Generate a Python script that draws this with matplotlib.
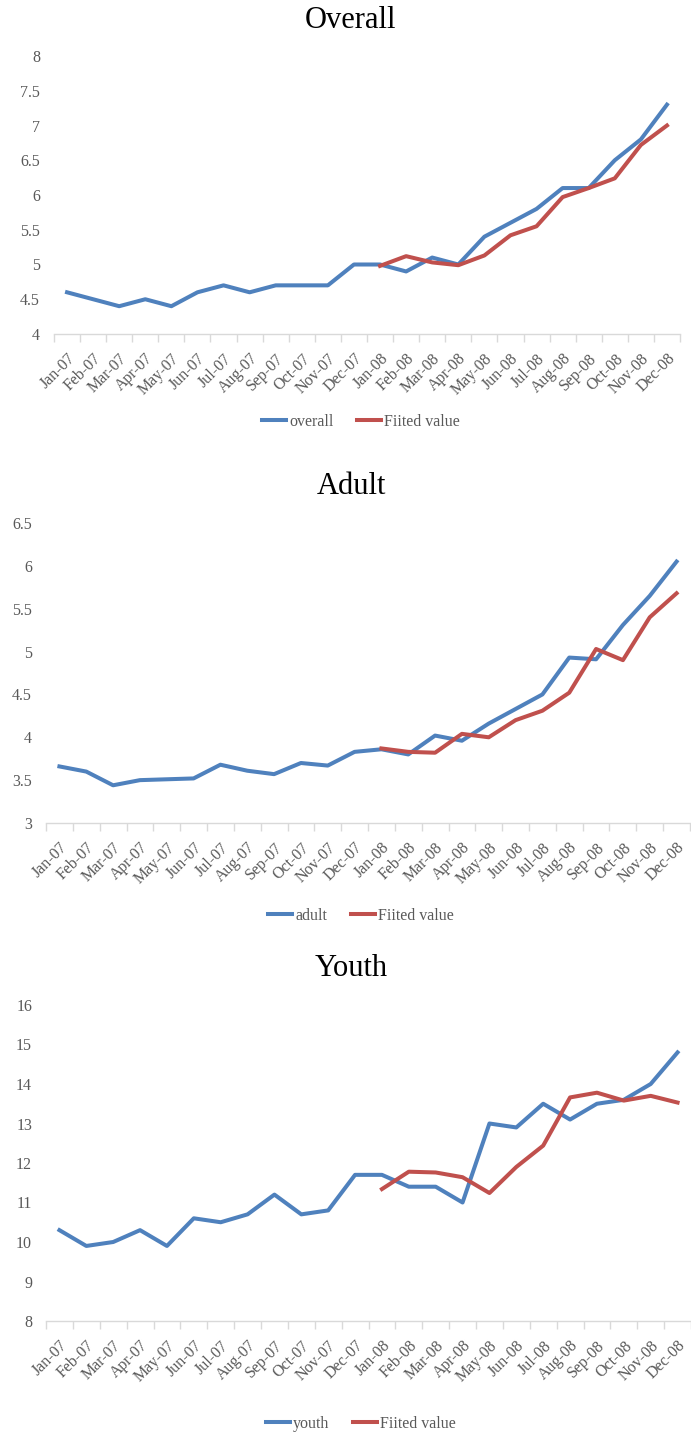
import matplotlib
matplotlib.use("Agg")
import matplotlib.pyplot as plt

plt.rcParams['font.family'] = ['Liberation Serif', 'DejaVu Serif']

months = ['Jan-07', 'Feb-07', 'Mar-07', 'Apr-07', 'May-07', 'Jun-07',
          'Jul-07', 'Aug-07', 'Sep-07', 'Oct-07', 'Nov-07', 'Dec-07',
          'Jan-08', 'Feb-08', 'Mar-08', 'Apr-08', 'May-08', 'Jun-08',
          'Jul-08', 'Aug-08', 'Sep-08', 'Oct-08', 'Nov-08', 'Dec-08']

overall = [4.6, 4.5, 4.4, 4.5, 4.4, 4.6, 4.7, 4.6, 4.7, 4.7, 4.7, 5.0,
           5.0, 4.9, 5.1, 5.0, 5.4, 5.6, 5.8, 6.1, 6.1, 6.5, 6.8, 7.3]
overall_fit = [4.98, 5.12, 5.03, 4.99, 5.13, 5.42, 5.55, 5.97, 6.1, 6.24, 6.72, 7.0]

adult = [3.66, 3.60, 3.44, 3.50, 3.51, 3.52, 3.68, 3.61, 3.57, 3.70, 3.67, 3.83,
         3.86, 3.80, 4.02, 3.96, 4.16, 4.33, 4.50, 4.93, 4.91, 5.31, 5.65, 6.05]
adult_fit = [3.87, 3.83, 3.82, 4.04, 4.00, 4.20, 4.31, 4.52, 5.03, 4.90, 5.40, 5.68]

youth = [10.3, 9.9, 10.0, 10.3, 9.9, 10.6, 10.5, 10.7, 11.2, 10.7, 10.8, 11.7,
         11.7, 11.4, 11.4, 11.0, 13.0, 12.9, 13.5, 13.1, 13.5, 13.6, 14.0, 14.8]
youth_fit = [11.34, 11.78, 11.76, 11.64, 11.24, 11.9, 12.44, 13.66, 13.78, 13.58, 13.7, 13.53]

BLUE = '#4F81BD'
RED = '#C0504D'
GRAY = '#595959'

W, H = 691, 1435
fig = plt.figure(figsize=(W / 100, H / 100), dpi=100)


def panel(rect_px, title, series, fit, name, ylim, ystep, title_y, legend_y):
    l, t, r, b = rect_px
    ax = fig.add_axes([l / W, 1 - b / H, (r - l) / W, (b - t) / H])
    x = list(range(len(months)))
    ax.plot(x, series, color=BLUE, lw=2.9, solid_joinstyle='round', label=name)
    ax.plot(x[12:], fit, color=RED, lw=2.9, solid_joinstyle='round', label='Fiited value')
    ax.set_xlim(-0.5, len(months) - 0.5)
    ax.set_ylim(*ylim)
    yt = []
    v = ylim[0]
    while v <= ylim[1] + 1e-9:
        yt.append(v)
        v += ystep
    ax.set_yticks(yt)
    ax.set_yticklabels([('%g' % v) for v in yt])
    ax.set_xticks(x)
    ax.set_xticklabels(months, rotation=45, ha='right', rotation_mode='anchor')
    ax.set_xticks([i - 0.5 for i in range(len(months) + 1)], minor=True)
    ax.tick_params(axis='x', which='major', length=0, pad=12, labelsize=11.5, colors=GRAY)
    ax.tick_params(axis='x', which='minor', length=6, color='#D9D9D9', width=1)
    ax.tick_params(axis='y', length=0, pad=10, labelsize=11.5, colors=GRAY)
    for s in ['top', 'right', 'left']:
        ax.spines[s].set_visible(False)
    ax.spines['bottom'].set_color('#D9D9D9')
    ax.spines['bottom'].set_linewidth(1)
    fig.text(351 / W, 1 - title_y / H, title, ha='center', va='center', fontsize=22)
    ax.legend(loc='center', bbox_to_anchor=(361 / W, 1 - legend_y / H),
              bbox_transform=fig.transFigure, ncol=2, frameon=False, fontsize=11.5,
              handlelength=1.5, columnspacing=1.5, handletextpad=0.2,
              labelcolor=GRAY)
    return ax


panel((54, 56, 680, 334), 'Overall', overall, overall_fit, 'overall', (4, 8), 0.5, 20, 422)
panel((46, 523, 690, 823), 'Adult', adult, adult_fit, 'adult', (3, 6.5), 0.5, 487, 916)
panel((46, 1005, 691, 1321), 'Youth', youth, youth_fit, 'youth', (8, 16), 1, 968, 1424)

fig.savefig('out.png', dpi=100)
